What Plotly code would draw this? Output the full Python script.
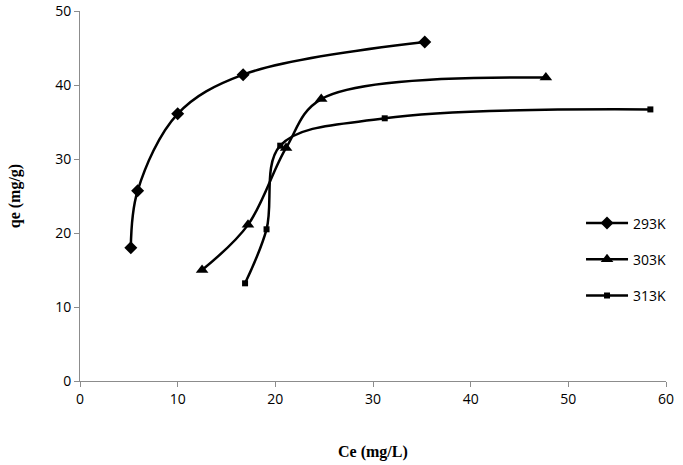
import plotly.graph_objects as go

x_293 = [5.2, 5.9, 10.0, 16.7, 35.3]
y_293 = [18.0, 25.7, 36.1, 41.4, 45.8]
x_303 = [12.5, 17.2, 21.1, 24.7, 47.7]
y_303 = [15.0, 21.1, 31.5, 38.1, 41.0]
x_313 = [16.9, 19.1, 20.5, 31.2, 58.4]
y_313 = [13.2, 20.5, 31.8, 35.5, 36.7]

series = [
    ("293K", x_293, y_293, "diamond", 10),
    ("303K", x_303, y_303, "triangle-up", 11),
    ("313K", x_313, y_313, "square", 6),
]

fig = go.Figure()
for name, xs, ys, sym, sz in series:
    fig.add_trace(go.Scatter(
        x=xs, y=ys, name=name, legendgroup=name,
        mode="lines+markers",
        line=dict(color="black", width=2.5, shape="spline", smoothing=1.0),
        marker=dict(symbol=sym, size=sz, color="black"),
    ))

axis_common = dict(
    showline=True, linecolor="#8c8c8c", linewidth=1,
    ticks="outside", tickcolor="#8c8c8c", ticklen=5,
    showgrid=False, zeroline=False, automargin=False,
    tickfont=dict(family="Open Sans", size=14, color="black"),
)

title_font = dict(family="Liberation Serif", size=16, color="black")

fig.update_layout(
    width=683, height=465,
    margin=dict(l=80, r=15, t=11, b=84),
    plot_bgcolor="white", paper_bgcolor="white",
    xaxis=dict(range=[0, 60], dtick=10, **axis_common),
    yaxis=dict(range=[0, 50], dtick=10, **axis_common),
    legend=dict(x=0.855, y=0.469, xanchor="left", yanchor="top",
                font=dict(family="Open Sans", size=14, color="black"),
                itemwidth=42,
                tracegroupgap=15, bgcolor="rgba(0,0,0,0)"),
    showlegend=True,
    annotations=[
        dict(text="<b>Ce (mg/L)</b>", xref="paper", yref="paper",
             x=0.5, y=-0.192, xanchor="center", yanchor="middle",
             showarrow=False, font=title_font),
        dict(text="<b>qe (mg/g)</b>", xref="paper", yref="paper",
             x=-0.1105, y=0.5, xanchor="center", yanchor="middle",
             textangle=-90, showarrow=False, font=title_font),
    ],
)

fig.write_html("out.html",
               config={"displayModeBar": False},
               post_script="document.body.style.margin='0px';document.body.style.padding='0px';")
